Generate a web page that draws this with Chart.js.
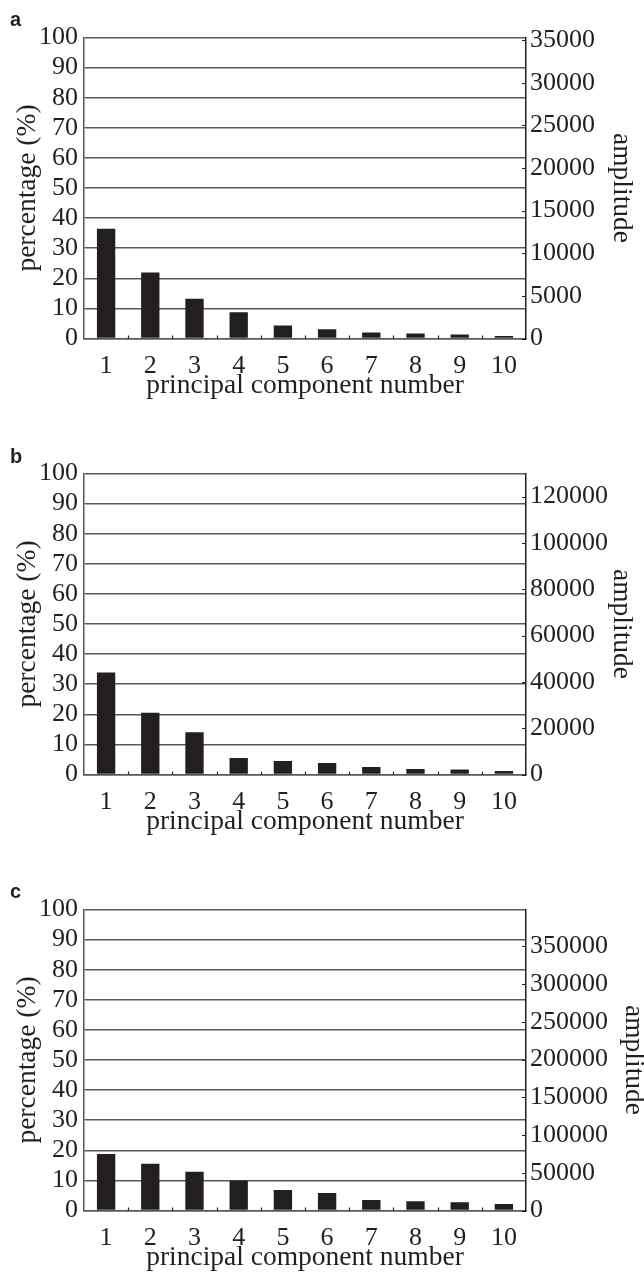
<!DOCTYPE html>
<html>
<head>
<meta charset="utf-8">
<script src="https://cdn.jsdelivr.net/npm/chart.js@4/dist/chart.umd.min.js"></script>
<style>
  html, body { margin: 0; padding: 0; background: #fff; width: 644px; height: 1274px; overflow: hidden; }
  .panel { position: absolute; left: 0; width: 644px; height: 436px; }
  .tag { position: absolute; left: 10px; font: bold 20px "Liberation Sans", Arial, sans-serif; line-height: 20px; color: #231f20; }
</style>
</head>
<body>
<div class="panel" style="top:0px"><canvas id="chartA" width="644" height="436"></canvas></div>
<div class="panel" style="top:436px"><canvas id="chartB" width="644" height="436"></canvas></div>
<div class="panel" style="top:872px"><canvas id="chartC" width="644" height="436"></canvas></div>
<div class="tag" style="top:9px">a</div>
<div class="tag" style="top:446px">b</div>
<div class="tag" style="top:881px">c</div>
<script>
// Principal components 1..10
const components = ['1', '2', '3', '4', '5', '6', '7', '8', '9', '10'];

// Explained variance (%) per component
const percentA = [36.5, 21.9, 13.2, 8.7, 4.3, 3.1, 2.0, 1.65, 1.3, 0.85];
const percentB = [33.9, 20.5, 14.0, 5.5, 4.5, 3.85, 2.5, 1.85, 1.65, 1.2];
const percentC = [18.8, 15.5, 12.9, 10.0, 6.85, 5.85, 3.5, 3.05, 2.75, 2.2];

// Percentage axis ticks (shared by all panels)
const percentTicks = [0, 10, 20, 30, 40, 50, 60, 70, 80, 90, 100];

// Amplitude axis: labelled values and the value at the top of each plot
const amplitudeTicksA = [0, 5000, 10000, 15000, 20000, 25000, 30000, 35000];
const amplitudeTicksB = [0, 20000, 40000, 60000, 80000, 100000, 120000];
const amplitudeTicksC = [0, 50000, 100000, 150000, 200000, 250000, 300000, 350000];
const amplitudeTop = [35300, 130000, 399000];

const ink = '#231f20';
const gridInk = '#58585b';
const serif = '"Liberation Serif", "Times New Roman", serif';
const tickFont = { family: serif, size: 26, lineHeight: 1.2 };
const titleFont = { family: serif, size: 27.5, lineHeight: 1.2 };

const asTicks = arr => arr.map(v => ({ value: v }));

// Short inward ticks: at amplitude labels on the right axis and between categories on the x axis
const innerTicks = {
  id: 'innerTicks',
  afterDraw(chart) {
    const { ctx, chartArea } = chart;
    const xs = chart.scales.x;
    const amp = chart.scales.amp;
    ctx.save();
    ctx.strokeStyle = ink;
    ctx.lineWidth = 1.2;
    ctx.beginPath();
    amp.ticks.forEach(t => {
      const y = Math.round(amp.getPixelForValue(t.value)) + 0.5;
      ctx.moveTo(chartArea.right, y);
      ctx.lineTo(chartArea.right - 4, y);
    });
    for (let i = 1; i < xs.ticks.length; i++) {
      const px = Math.round((xs.getPixelForValue(i - 1) + xs.getPixelForValue(i)) / 2) + 0.5;
      ctx.moveTo(px, chartArea.bottom);
      ctx.lineTo(px, chartArea.bottom - 3);
    }
    ctx.stroke();
    ctx.restore();
  }
};

function makeChart(id, values, ampTicks, ampTop, ampTitlePad) {
  return new Chart(document.getElementById(id), {
    type: 'bar',
    data: {
      labels: components,
      datasets: [{
        data: values,
        backgroundColor: ink,
        borderWidth: 0,
        barPercentage: 0.415,
        categoryPercentage: 1.0,
        xAxisID: 'x',
        yAxisID: 'y'
      }]
    },
    options: {
      responsive: false,
      animation: false,
      events: [],
      layout: { padding: { top: 37.5, left: 0, right: 0, bottom: 0 } },
      plugins: { legend: { display: false }, tooltip: { enabled: false } },
      scales: {
        x: {
          grid: { display: false },
          border: { display: true, color: gridInk, width: 1.5 },
          ticks: { color: ink, font: tickFont, padding: 4, maxRotation: 0, autoSkip: false },
          title: { display: true, text: 'principal component number', color: ink, font: titleFont, padding: { top: 0, bottom: 34 } },
          afterFit(s) { s.height = 97.5; }
        },
        y: {
          position: 'left',
          min: 0,
          max: 100,
          afterBuildTicks(s) { s.ticks = asTicks(percentTicks); },
          ticks: { autoSkip: false, color: ink, font: tickFont, padding: 6, callback: v => String(v) },
          grid: { color: gridInk, lineWidth: 1.5, drawTicks: false },
          border: { display: true, color: gridInk, width: 1.5 },
          title: { display: true, text: 'percentage (%)', color: ink, font: titleFont, padding: { top: 11, bottom: 0 } },
          afterFit(s) { s.width = 84; }
        },
        amp: {
          position: 'right',
          min: 0,
          max: ampTop,
          afterBuildTicks(s) { s.ticks = asTicks(ampTicks); },
          ticks: { autoSkip: false, color: ink, font: tickFont, padding: 4, callback: v => String(v) },
          grid: { display: false, drawTicks: false },
          border: { display: true, color: ink, width: 1.5 },
          title: { display: true, text: 'amplitude', color: ink, font: titleFont, padding: { top: ampTitlePad, bottom: 0 } },
          afterFit(s) { s.width = 118; }
        }
      }
    },
    plugins: [innerTicks]
  });
}

makeChart('chartA', percentA, amplitudeTicksA, amplitudeTop[0], 6);
makeChart('chartB', percentB, amplitudeTicksB, amplitudeTop[1], 6);
makeChart('chartC', percentC, amplitudeTicksC, amplitudeTop[2], -6);
</script>
</body>
</html>
